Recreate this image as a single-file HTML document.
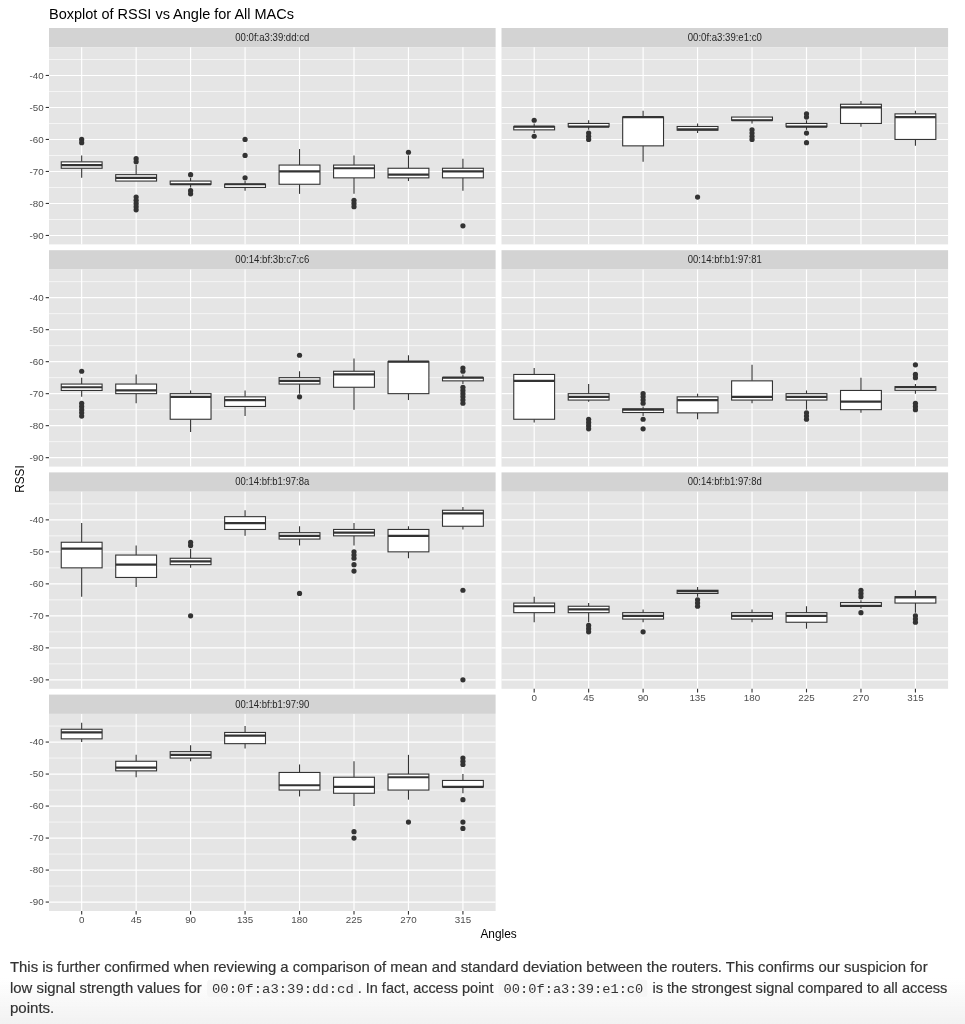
<!DOCTYPE html>
<html><head><meta charset="utf-8">
<style>
html,body{margin:0;padding:0;background:#fff;}
body{width:965px;height:1024px;overflow:hidden;position:relative;font-family:"Liberation Sans",sans-serif;}
svg{position:absolute;left:0;top:0;will-change:transform;}
svg text{font-family:"Liberation Sans",sans-serif;}
.st{font-size:10.2px;fill:#262626;}
.ax{font-size:9.8px;fill:#4D4D4D;}
.gmin{stroke:#fff;stroke-width:0.65;}
.gmaj{stroke:#fff;stroke-width:1.15;}
.wh{stroke:#333333;stroke-width:1.1;}
.bx{fill:#fff;stroke:#333333;stroke-width:1.1;}
.md{stroke:#333333;stroke-width:2.2;}
.pt{fill:#333333;}
.tk{stroke:#333333;stroke-width:1.1;}
.ttl{font-size:14.5px;fill:#000;}
.atl{font-size:11.8px;fill:#000;}
.pa{font-size:14.4px;fill:#333;stroke:#333;stroke-width:0.18px;}
.cd{font-family:"Liberation Mono",monospace !important;font-size:12.8px;fill:#333;}
</style></head>
<body>
<svg width="965" height="1024" viewBox="0 0 965 1024">
<defs><linearGradient id="fd" x1="0" y1="0" x2="0" y2="1">
<stop offset="0" stop-color="#f2f2f2" stop-opacity="0"/>
<stop offset="1" stop-color="#f2f2f2" stop-opacity="1"/>
</linearGradient></defs>
<text x="49" y="19.4" class="ttl">Boxplot of RSSI vs Angle for All MACs</text>
<rect x="49" y="28" width="446.6" height="19.3" fill="#D3D3D3"/>
<text x="235.3" y="40.95" class="st" textLength="74" lengthAdjust="spacingAndGlyphs">00:0f:a3:39:dd:cd</text>
<rect x="49" y="47.3" width="446.6" height="197.1" fill="#E5E5E5"/>
<line x1="49" x2="495.6" y1="59.46" y2="59.46" class="gmin"/>
<line x1="49" x2="495.6" y1="91.46" y2="91.46" class="gmin"/>
<line x1="49" x2="495.6" y1="123.46" y2="123.46" class="gmin"/>
<line x1="49" x2="495.6" y1="155.46" y2="155.46" class="gmin"/>
<line x1="49" x2="495.6" y1="187.46" y2="187.46" class="gmin"/>
<line x1="49" x2="495.6" y1="219.46" y2="219.46" class="gmin"/>
<line x1="49" x2="495.6" y1="75.46" y2="75.46" class="gmaj"/>
<line x1="49" x2="495.6" y1="107.46" y2="107.46" class="gmaj"/>
<line x1="49" x2="495.6" y1="139.46" y2="139.46" class="gmaj"/>
<line x1="49" x2="495.6" y1="171.46" y2="171.46" class="gmaj"/>
<line x1="49" x2="495.6" y1="203.46" y2="203.46" class="gmaj"/>
<line x1="49" x2="495.6" y1="235.46" y2="235.46" class="gmaj"/>
<line x1="81.68" x2="81.68" y1="47.3" y2="244.4" class="gmaj"/>
<line x1="136.14" x2="136.14" y1="47.3" y2="244.4" class="gmaj"/>
<line x1="190.6" x2="190.6" y1="47.3" y2="244.4" class="gmaj"/>
<line x1="245.07" x2="245.07" y1="47.3" y2="244.4" class="gmaj"/>
<line x1="299.53" x2="299.53" y1="47.3" y2="244.4" class="gmaj"/>
<line x1="354" x2="354" y1="47.3" y2="244.4" class="gmaj"/>
<line x1="408.46" x2="408.46" y1="47.3" y2="244.4" class="gmaj"/>
<line x1="462.92" x2="462.92" y1="47.3" y2="244.4" class="gmaj"/>
<line x1="81.68" x2="81.68" y1="155.46" y2="161.86" class="wh"/>
<line x1="81.68" x2="81.68" y1="168.26" y2="177.86" class="wh"/>
<rect x="61.25" y="161.86" width="40.85" height="6.4" class="bx"/>
<line x1="61.25" x2="102.1" y1="165.06" y2="165.06" class="md"/>
<circle cx="81.68" cy="139.46" r="2.6" class="pt"/>
<circle cx="81.68" cy="142.66" r="2.6" class="pt"/>
<line x1="136.14" x2="136.14" y1="165.06" y2="174.66" class="wh"/>
<line x1="136.14" x2="136.14" y1="181.06" y2="181.06" class="wh"/>
<rect x="115.72" y="174.66" width="40.85" height="6.4" class="bx"/>
<line x1="115.72" x2="156.57" y1="177.86" y2="177.86" class="md"/>
<circle cx="136.14" cy="158.66" r="2.6" class="pt"/>
<circle cx="136.14" cy="161.86" r="2.6" class="pt"/>
<circle cx="136.14" cy="197.06" r="2.6" class="pt"/>
<circle cx="136.14" cy="200.26" r="2.6" class="pt"/>
<circle cx="136.14" cy="203.46" r="2.6" class="pt"/>
<circle cx="136.14" cy="206.66" r="2.6" class="pt"/>
<circle cx="136.14" cy="209.86" r="2.6" class="pt"/>
<line x1="190.6" x2="190.6" y1="177.86" y2="181.06" class="wh"/>
<line x1="190.6" x2="190.6" y1="184.26" y2="187.46" class="wh"/>
<rect x="170.18" y="181.06" width="40.85" height="3.2" class="bx"/>
<line x1="170.18" x2="211.03" y1="184.26" y2="184.26" class="md"/>
<circle cx="190.6" cy="174.66" r="2.6" class="pt"/>
<circle cx="190.6" cy="190.66" r="2.6" class="pt"/>
<circle cx="190.6" cy="193.86" r="2.6" class="pt"/>
<line x1="245.07" x2="245.07" y1="181.06" y2="184.26" class="wh"/>
<line x1="245.07" x2="245.07" y1="187.46" y2="190.66" class="wh"/>
<rect x="224.64" y="184.26" width="40.85" height="3.2" class="bx"/>
<line x1="224.64" x2="265.49" y1="184.26" y2="184.26" class="md"/>
<circle cx="245.07" cy="139.46" r="2.6" class="pt"/>
<circle cx="245.07" cy="155.46" r="2.6" class="pt"/>
<circle cx="245.07" cy="177.86" r="2.6" class="pt"/>
<line x1="299.53" x2="299.53" y1="149.06" y2="165.06" class="wh"/>
<line x1="299.53" x2="299.53" y1="184.26" y2="193.86" class="wh"/>
<rect x="279.11" y="165.06" width="40.85" height="19.2" class="bx"/>
<line x1="279.11" x2="319.96" y1="171.46" y2="171.46" class="md"/>
<line x1="354" x2="354" y1="155.46" y2="165.06" class="wh"/>
<line x1="354" x2="354" y1="177.86" y2="193.86" class="wh"/>
<rect x="333.57" y="165.06" width="40.85" height="12.8" class="bx"/>
<line x1="333.57" x2="374.42" y1="168.26" y2="168.26" class="md"/>
<circle cx="354" cy="200.26" r="2.6" class="pt"/>
<circle cx="354" cy="203.46" r="2.6" class="pt"/>
<circle cx="354" cy="206.66" r="2.6" class="pt"/>
<line x1="408.46" x2="408.46" y1="155.46" y2="168.26" class="wh"/>
<line x1="408.46" x2="408.46" y1="177.86" y2="181.06" class="wh"/>
<rect x="388.03" y="168.26" width="40.85" height="9.6" class="bx"/>
<line x1="388.03" x2="428.88" y1="174.66" y2="174.66" class="md"/>
<circle cx="408.46" cy="152.26" r="2.6" class="pt"/>
<line x1="462.92" x2="462.92" y1="158.66" y2="168.26" class="wh"/>
<line x1="462.92" x2="462.92" y1="177.86" y2="190.66" class="wh"/>
<rect x="442.5" y="168.26" width="40.85" height="9.6" class="bx"/>
<line x1="442.5" x2="483.35" y1="171.46" y2="171.46" class="md"/>
<circle cx="462.92" cy="225.86" r="2.6" class="pt"/>
<line x1="45.7" x2="49" y1="75.46" y2="75.46" class="tk"/>
<text x="43.7" y="78.86" class="ax" text-anchor="end" textLength="14.16" lengthAdjust="spacingAndGlyphs">-40</text>
<line x1="45.7" x2="49" y1="107.46" y2="107.46" class="tk"/>
<text x="43.7" y="110.86" class="ax" text-anchor="end" textLength="14.16" lengthAdjust="spacingAndGlyphs">-50</text>
<line x1="45.7" x2="49" y1="139.46" y2="139.46" class="tk"/>
<text x="43.7" y="142.86" class="ax" text-anchor="end" textLength="14.16" lengthAdjust="spacingAndGlyphs">-60</text>
<line x1="45.7" x2="49" y1="171.46" y2="171.46" class="tk"/>
<text x="43.7" y="174.86" class="ax" text-anchor="end" textLength="14.16" lengthAdjust="spacingAndGlyphs">-70</text>
<line x1="45.7" x2="49" y1="203.46" y2="203.46" class="tk"/>
<text x="43.7" y="206.86" class="ax" text-anchor="end" textLength="14.16" lengthAdjust="spacingAndGlyphs">-80</text>
<line x1="45.7" x2="49" y1="235.46" y2="235.46" class="tk"/>
<text x="43.7" y="238.86" class="ax" text-anchor="end" textLength="14.16" lengthAdjust="spacingAndGlyphs">-90</text>
<rect x="501.5" y="28" width="446.6" height="19.3" fill="#D3D3D3"/>
<text x="687.8" y="40.95" class="st" textLength="74" lengthAdjust="spacingAndGlyphs">00:0f:a3:39:e1:c0</text>
<rect x="501.5" y="47.3" width="446.6" height="197.1" fill="#E5E5E5"/>
<line x1="501.5" x2="948.1" y1="59.46" y2="59.46" class="gmin"/>
<line x1="501.5" x2="948.1" y1="91.46" y2="91.46" class="gmin"/>
<line x1="501.5" x2="948.1" y1="123.46" y2="123.46" class="gmin"/>
<line x1="501.5" x2="948.1" y1="155.46" y2="155.46" class="gmin"/>
<line x1="501.5" x2="948.1" y1="187.46" y2="187.46" class="gmin"/>
<line x1="501.5" x2="948.1" y1="219.46" y2="219.46" class="gmin"/>
<line x1="501.5" x2="948.1" y1="75.46" y2="75.46" class="gmaj"/>
<line x1="501.5" x2="948.1" y1="107.46" y2="107.46" class="gmaj"/>
<line x1="501.5" x2="948.1" y1="139.46" y2="139.46" class="gmaj"/>
<line x1="501.5" x2="948.1" y1="171.46" y2="171.46" class="gmaj"/>
<line x1="501.5" x2="948.1" y1="203.46" y2="203.46" class="gmaj"/>
<line x1="501.5" x2="948.1" y1="235.46" y2="235.46" class="gmaj"/>
<line x1="534.18" x2="534.18" y1="47.3" y2="244.4" class="gmaj"/>
<line x1="588.64" x2="588.64" y1="47.3" y2="244.4" class="gmaj"/>
<line x1="643.1" x2="643.1" y1="47.3" y2="244.4" class="gmaj"/>
<line x1="697.57" x2="697.57" y1="47.3" y2="244.4" class="gmaj"/>
<line x1="752.03" x2="752.03" y1="47.3" y2="244.4" class="gmaj"/>
<line x1="806.5" x2="806.5" y1="47.3" y2="244.4" class="gmaj"/>
<line x1="860.96" x2="860.96" y1="47.3" y2="244.4" class="gmaj"/>
<line x1="915.42" x2="915.42" y1="47.3" y2="244.4" class="gmaj"/>
<line x1="534.18" x2="534.18" y1="123.46" y2="126.66" class="wh"/>
<line x1="534.18" x2="534.18" y1="129.86" y2="133.06" class="wh"/>
<rect x="513.75" y="126.66" width="40.85" height="3.2" class="bx"/>
<line x1="513.75" x2="554.6" y1="126.66" y2="126.66" class="md"/>
<circle cx="534.18" cy="120.26" r="2.6" class="pt"/>
<circle cx="534.18" cy="136.26" r="2.6" class="pt"/>
<line x1="588.64" x2="588.64" y1="120.26" y2="123.46" class="wh"/>
<line x1="588.64" x2="588.64" y1="126.66" y2="129.86" class="wh"/>
<rect x="568.22" y="123.46" width="40.85" height="3.2" class="bx"/>
<line x1="568.22" x2="609.07" y1="126.66" y2="126.66" class="md"/>
<circle cx="588.64" cy="133.06" r="2.6" class="pt"/>
<circle cx="588.64" cy="136.26" r="2.6" class="pt"/>
<circle cx="588.64" cy="139.46" r="2.6" class="pt"/>
<line x1="643.1" x2="643.1" y1="110.66" y2="117.06" class="wh"/>
<line x1="643.1" x2="643.1" y1="145.86" y2="161.86" class="wh"/>
<rect x="622.68" y="117.06" width="40.85" height="28.8" class="bx"/>
<line x1="622.68" x2="663.53" y1="117.06" y2="117.06" class="md"/>
<line x1="697.57" x2="697.57" y1="123.46" y2="126.5" class="wh"/>
<line x1="697.57" x2="697.57" y1="130.18" y2="133.06" class="wh"/>
<rect x="677.14" y="126.5" width="40.85" height="3.68" class="bx"/>
<line x1="677.14" x2="717.99" y1="129.38" y2="129.38" class="md"/>
<circle cx="697.57" cy="197.06" r="2.6" class="pt"/>
<line x1="752.03" x2="752.03" y1="117.06" y2="117.06" class="wh"/>
<line x1="752.03" x2="752.03" y1="120.26" y2="123.46" class="wh"/>
<rect x="731.61" y="117.06" width="40.85" height="3.2" class="bx"/>
<line x1="731.61" x2="772.46" y1="120.26" y2="120.26" class="md"/>
<circle cx="752.03" cy="129.86" r="2.6" class="pt"/>
<circle cx="752.03" cy="133.06" r="2.6" class="pt"/>
<circle cx="752.03" cy="136.26" r="2.6" class="pt"/>
<circle cx="752.03" cy="139.46" r="2.6" class="pt"/>
<line x1="806.5" x2="806.5" y1="120.26" y2="123.46" class="wh"/>
<line x1="806.5" x2="806.5" y1="126.66" y2="129.86" class="wh"/>
<rect x="786.07" y="123.46" width="40.85" height="3.2" class="bx"/>
<line x1="786.07" x2="826.92" y1="126.66" y2="126.66" class="md"/>
<circle cx="806.5" cy="113.86" r="2.6" class="pt"/>
<circle cx="806.5" cy="117.06" r="2.6" class="pt"/>
<circle cx="806.5" cy="133.06" r="2.6" class="pt"/>
<circle cx="806.5" cy="142.66" r="2.6" class="pt"/>
<line x1="860.96" x2="860.96" y1="101.06" y2="104.26" class="wh"/>
<line x1="860.96" x2="860.96" y1="123.46" y2="126.66" class="wh"/>
<rect x="840.53" y="104.26" width="40.85" height="19.2" class="bx"/>
<line x1="840.53" x2="881.38" y1="107.46" y2="107.46" class="md"/>
<line x1="915.42" x2="915.42" y1="110.66" y2="113.86" class="wh"/>
<line x1="915.42" x2="915.42" y1="139.46" y2="145.86" class="wh"/>
<rect x="895" y="113.86" width="40.85" height="25.6" class="bx"/>
<line x1="895" x2="935.85" y1="117.06" y2="117.06" class="md"/>
<rect x="49" y="250.2" width="446.6" height="19.3" fill="#D3D3D3"/>
<text x="235.3" y="263.15" class="st" textLength="74" lengthAdjust="spacingAndGlyphs">00:14:bf:3b:c7:c6</text>
<rect x="49" y="269.5" width="446.6" height="197.1" fill="#E5E5E5"/>
<line x1="49" x2="495.6" y1="281.66" y2="281.66" class="gmin"/>
<line x1="49" x2="495.6" y1="313.66" y2="313.66" class="gmin"/>
<line x1="49" x2="495.6" y1="345.66" y2="345.66" class="gmin"/>
<line x1="49" x2="495.6" y1="377.66" y2="377.66" class="gmin"/>
<line x1="49" x2="495.6" y1="409.66" y2="409.66" class="gmin"/>
<line x1="49" x2="495.6" y1="441.66" y2="441.66" class="gmin"/>
<line x1="49" x2="495.6" y1="297.66" y2="297.66" class="gmaj"/>
<line x1="49" x2="495.6" y1="329.66" y2="329.66" class="gmaj"/>
<line x1="49" x2="495.6" y1="361.66" y2="361.66" class="gmaj"/>
<line x1="49" x2="495.6" y1="393.66" y2="393.66" class="gmaj"/>
<line x1="49" x2="495.6" y1="425.66" y2="425.66" class="gmaj"/>
<line x1="49" x2="495.6" y1="457.66" y2="457.66" class="gmaj"/>
<line x1="81.68" x2="81.68" y1="269.5" y2="466.6" class="gmaj"/>
<line x1="136.14" x2="136.14" y1="269.5" y2="466.6" class="gmaj"/>
<line x1="190.6" x2="190.6" y1="269.5" y2="466.6" class="gmaj"/>
<line x1="245.07" x2="245.07" y1="269.5" y2="466.6" class="gmaj"/>
<line x1="299.53" x2="299.53" y1="269.5" y2="466.6" class="gmaj"/>
<line x1="354" x2="354" y1="269.5" y2="466.6" class="gmaj"/>
<line x1="408.46" x2="408.46" y1="269.5" y2="466.6" class="gmaj"/>
<line x1="462.92" x2="462.92" y1="269.5" y2="466.6" class="gmaj"/>
<line x1="81.68" x2="81.68" y1="377.66" y2="384.06" class="wh"/>
<line x1="81.68" x2="81.68" y1="390.46" y2="396.86" class="wh"/>
<rect x="61.25" y="384.06" width="40.85" height="6.4" class="bx"/>
<line x1="61.25" x2="102.1" y1="387.26" y2="387.26" class="md"/>
<circle cx="81.68" cy="371.26" r="2.6" class="pt"/>
<circle cx="81.68" cy="403.26" r="2.6" class="pt"/>
<circle cx="81.68" cy="406.46" r="2.6" class="pt"/>
<circle cx="81.68" cy="409.66" r="2.6" class="pt"/>
<circle cx="81.68" cy="412.86" r="2.6" class="pt"/>
<circle cx="81.68" cy="416.06" r="2.6" class="pt"/>
<line x1="136.14" x2="136.14" y1="374.46" y2="384.06" class="wh"/>
<line x1="136.14" x2="136.14" y1="393.66" y2="403.26" class="wh"/>
<rect x="115.72" y="384.06" width="40.85" height="9.6" class="bx"/>
<line x1="115.72" x2="156.57" y1="390.46" y2="390.46" class="md"/>
<line x1="190.6" x2="190.6" y1="390.46" y2="393.66" class="wh"/>
<line x1="190.6" x2="190.6" y1="419.26" y2="432.06" class="wh"/>
<rect x="170.18" y="393.66" width="40.85" height="25.6" class="bx"/>
<line x1="170.18" x2="211.03" y1="396.86" y2="396.86" class="md"/>
<line x1="245.07" x2="245.07" y1="390.46" y2="396.86" class="wh"/>
<line x1="245.07" x2="245.07" y1="406.46" y2="416.06" class="wh"/>
<rect x="224.64" y="396.86" width="40.85" height="9.6" class="bx"/>
<line x1="224.64" x2="265.49" y1="400.06" y2="400.06" class="md"/>
<line x1="299.53" x2="299.53" y1="371.26" y2="377.66" class="wh"/>
<line x1="299.53" x2="299.53" y1="384.06" y2="393.66" class="wh"/>
<rect x="279.11" y="377.66" width="40.85" height="6.4" class="bx"/>
<line x1="279.11" x2="319.96" y1="380.86" y2="380.86" class="md"/>
<circle cx="299.53" cy="355.26" r="2.6" class="pt"/>
<circle cx="299.53" cy="396.86" r="2.6" class="pt"/>
<line x1="354" x2="354" y1="358.46" y2="371.26" class="wh"/>
<line x1="354" x2="354" y1="387.26" y2="409.66" class="wh"/>
<rect x="333.57" y="371.26" width="40.85" height="16" class="bx"/>
<line x1="333.57" x2="374.42" y1="374.46" y2="374.46" class="md"/>
<line x1="408.46" x2="408.46" y1="355.26" y2="361.66" class="wh"/>
<line x1="408.46" x2="408.46" y1="393.66" y2="400.06" class="wh"/>
<rect x="388.03" y="361.66" width="40.85" height="32" class="bx"/>
<line x1="388.03" x2="428.88" y1="361.66" y2="361.66" class="md"/>
<line x1="462.92" x2="462.92" y1="374.46" y2="377.66" class="wh"/>
<line x1="462.92" x2="462.92" y1="380.86" y2="384.06" class="wh"/>
<rect x="442.5" y="377.66" width="40.85" height="3.2" class="bx"/>
<line x1="442.5" x2="483.35" y1="377.66" y2="377.66" class="md"/>
<circle cx="462.92" cy="368.06" r="2.6" class="pt"/>
<circle cx="462.92" cy="371.26" r="2.6" class="pt"/>
<circle cx="462.92" cy="387.26" r="2.6" class="pt"/>
<circle cx="462.92" cy="390.46" r="2.6" class="pt"/>
<circle cx="462.92" cy="393.66" r="2.6" class="pt"/>
<circle cx="462.92" cy="396.86" r="2.6" class="pt"/>
<circle cx="462.92" cy="400.06" r="2.6" class="pt"/>
<circle cx="462.92" cy="403.26" r="2.6" class="pt"/>
<line x1="45.7" x2="49" y1="297.66" y2="297.66" class="tk"/>
<text x="43.7" y="301.06" class="ax" text-anchor="end" textLength="14.16" lengthAdjust="spacingAndGlyphs">-40</text>
<line x1="45.7" x2="49" y1="329.66" y2="329.66" class="tk"/>
<text x="43.7" y="333.06" class="ax" text-anchor="end" textLength="14.16" lengthAdjust="spacingAndGlyphs">-50</text>
<line x1="45.7" x2="49" y1="361.66" y2="361.66" class="tk"/>
<text x="43.7" y="365.06" class="ax" text-anchor="end" textLength="14.16" lengthAdjust="spacingAndGlyphs">-60</text>
<line x1="45.7" x2="49" y1="393.66" y2="393.66" class="tk"/>
<text x="43.7" y="397.06" class="ax" text-anchor="end" textLength="14.16" lengthAdjust="spacingAndGlyphs">-70</text>
<line x1="45.7" x2="49" y1="425.66" y2="425.66" class="tk"/>
<text x="43.7" y="429.06" class="ax" text-anchor="end" textLength="14.16" lengthAdjust="spacingAndGlyphs">-80</text>
<line x1="45.7" x2="49" y1="457.66" y2="457.66" class="tk"/>
<text x="43.7" y="461.06" class="ax" text-anchor="end" textLength="14.16" lengthAdjust="spacingAndGlyphs">-90</text>
<rect x="501.5" y="250.2" width="446.6" height="19.3" fill="#D3D3D3"/>
<text x="687.8" y="263.15" class="st" textLength="74" lengthAdjust="spacingAndGlyphs">00:14:bf:b1:97:81</text>
<rect x="501.5" y="269.5" width="446.6" height="197.1" fill="#E5E5E5"/>
<line x1="501.5" x2="948.1" y1="281.66" y2="281.66" class="gmin"/>
<line x1="501.5" x2="948.1" y1="313.66" y2="313.66" class="gmin"/>
<line x1="501.5" x2="948.1" y1="345.66" y2="345.66" class="gmin"/>
<line x1="501.5" x2="948.1" y1="377.66" y2="377.66" class="gmin"/>
<line x1="501.5" x2="948.1" y1="409.66" y2="409.66" class="gmin"/>
<line x1="501.5" x2="948.1" y1="441.66" y2="441.66" class="gmin"/>
<line x1="501.5" x2="948.1" y1="297.66" y2="297.66" class="gmaj"/>
<line x1="501.5" x2="948.1" y1="329.66" y2="329.66" class="gmaj"/>
<line x1="501.5" x2="948.1" y1="361.66" y2="361.66" class="gmaj"/>
<line x1="501.5" x2="948.1" y1="393.66" y2="393.66" class="gmaj"/>
<line x1="501.5" x2="948.1" y1="425.66" y2="425.66" class="gmaj"/>
<line x1="501.5" x2="948.1" y1="457.66" y2="457.66" class="gmaj"/>
<line x1="534.18" x2="534.18" y1="269.5" y2="466.6" class="gmaj"/>
<line x1="588.64" x2="588.64" y1="269.5" y2="466.6" class="gmaj"/>
<line x1="643.1" x2="643.1" y1="269.5" y2="466.6" class="gmaj"/>
<line x1="697.57" x2="697.57" y1="269.5" y2="466.6" class="gmaj"/>
<line x1="752.03" x2="752.03" y1="269.5" y2="466.6" class="gmaj"/>
<line x1="806.5" x2="806.5" y1="269.5" y2="466.6" class="gmaj"/>
<line x1="860.96" x2="860.96" y1="269.5" y2="466.6" class="gmaj"/>
<line x1="915.42" x2="915.42" y1="269.5" y2="466.6" class="gmaj"/>
<line x1="534.18" x2="534.18" y1="368.06" y2="374.46" class="wh"/>
<line x1="534.18" x2="534.18" y1="419.26" y2="422.46" class="wh"/>
<rect x="513.75" y="374.46" width="40.85" height="44.8" class="bx"/>
<line x1="513.75" x2="554.6" y1="380.86" y2="380.86" class="md"/>
<line x1="588.64" x2="588.64" y1="384.06" y2="393.66" class="wh"/>
<line x1="588.64" x2="588.64" y1="400.06" y2="401.66" class="wh"/>
<rect x="568.22" y="393.66" width="40.85" height="6.4" class="bx"/>
<line x1="568.22" x2="609.07" y1="396.86" y2="396.86" class="md"/>
<circle cx="588.64" cy="419.26" r="2.6" class="pt"/>
<circle cx="588.64" cy="422.46" r="2.6" class="pt"/>
<circle cx="588.64" cy="425.66" r="2.6" class="pt"/>
<circle cx="588.64" cy="428.86" r="2.6" class="pt"/>
<line x1="643.1" x2="643.1" y1="406.46" y2="408.86" class="wh"/>
<line x1="643.1" x2="643.1" y1="412.54" y2="416.06" class="wh"/>
<rect x="622.68" y="408.86" width="40.85" height="3.68" class="bx"/>
<line x1="622.68" x2="663.53" y1="409.66" y2="409.66" class="md"/>
<circle cx="643.1" cy="393.66" r="2.6" class="pt"/>
<circle cx="643.1" cy="396.86" r="2.6" class="pt"/>
<circle cx="643.1" cy="400.06" r="2.6" class="pt"/>
<circle cx="643.1" cy="403.26" r="2.6" class="pt"/>
<circle cx="643.1" cy="419.26" r="2.6" class="pt"/>
<circle cx="643.1" cy="428.86" r="2.6" class="pt"/>
<line x1="697.57" x2="697.57" y1="393.66" y2="396.86" class="wh"/>
<line x1="697.57" x2="697.57" y1="412.86" y2="419.26" class="wh"/>
<rect x="677.14" y="396.86" width="40.85" height="16" class="bx"/>
<line x1="677.14" x2="717.99" y1="400.06" y2="400.06" class="md"/>
<line x1="752.03" x2="752.03" y1="364.86" y2="380.86" class="wh"/>
<line x1="752.03" x2="752.03" y1="400.06" y2="403.26" class="wh"/>
<rect x="731.61" y="380.86" width="40.85" height="19.2" class="bx"/>
<line x1="731.61" x2="772.46" y1="396.86" y2="396.86" class="md"/>
<line x1="806.5" x2="806.5" y1="390.46" y2="393.66" class="wh"/>
<line x1="806.5" x2="806.5" y1="400.06" y2="409.66" class="wh"/>
<rect x="786.07" y="393.66" width="40.85" height="6.4" class="bx"/>
<line x1="786.07" x2="826.92" y1="396.86" y2="396.86" class="md"/>
<circle cx="806.5" cy="412.86" r="2.6" class="pt"/>
<circle cx="806.5" cy="416.06" r="2.6" class="pt"/>
<circle cx="806.5" cy="419.26" r="2.6" class="pt"/>
<line x1="860.96" x2="860.96" y1="377.66" y2="390.46" class="wh"/>
<line x1="860.96" x2="860.96" y1="409.66" y2="412.86" class="wh"/>
<rect x="840.53" y="390.46" width="40.85" height="19.2" class="bx"/>
<line x1="840.53" x2="881.38" y1="401.66" y2="401.66" class="md"/>
<line x1="915.42" x2="915.42" y1="384.06" y2="386.62" class="wh"/>
<line x1="915.42" x2="915.42" y1="390.3" y2="393.66" class="wh"/>
<rect x="895" y="386.62" width="40.85" height="3.68" class="bx"/>
<line x1="895" x2="935.85" y1="387.26" y2="387.26" class="md"/>
<circle cx="915.42" cy="364.86" r="2.6" class="pt"/>
<circle cx="915.42" cy="374.46" r="2.6" class="pt"/>
<circle cx="915.42" cy="377.66" r="2.6" class="pt"/>
<circle cx="915.42" cy="403.26" r="2.6" class="pt"/>
<circle cx="915.42" cy="406.46" r="2.6" class="pt"/>
<circle cx="915.42" cy="409.66" r="2.6" class="pt"/>
<rect x="49" y="472.4" width="446.6" height="19.3" fill="#D3D3D3"/>
<text x="235.3" y="485.35" class="st" textLength="74" lengthAdjust="spacingAndGlyphs">00:14:bf:b1:97:8a</text>
<rect x="49" y="491.7" width="446.6" height="197.1" fill="#E5E5E5"/>
<line x1="49" x2="495.6" y1="503.86" y2="503.86" class="gmin"/>
<line x1="49" x2="495.6" y1="535.86" y2="535.86" class="gmin"/>
<line x1="49" x2="495.6" y1="567.86" y2="567.86" class="gmin"/>
<line x1="49" x2="495.6" y1="599.86" y2="599.86" class="gmin"/>
<line x1="49" x2="495.6" y1="631.86" y2="631.86" class="gmin"/>
<line x1="49" x2="495.6" y1="663.86" y2="663.86" class="gmin"/>
<line x1="49" x2="495.6" y1="519.86" y2="519.86" class="gmaj"/>
<line x1="49" x2="495.6" y1="551.86" y2="551.86" class="gmaj"/>
<line x1="49" x2="495.6" y1="583.86" y2="583.86" class="gmaj"/>
<line x1="49" x2="495.6" y1="615.86" y2="615.86" class="gmaj"/>
<line x1="49" x2="495.6" y1="647.86" y2="647.86" class="gmaj"/>
<line x1="49" x2="495.6" y1="679.86" y2="679.86" class="gmaj"/>
<line x1="81.68" x2="81.68" y1="491.7" y2="688.8" class="gmaj"/>
<line x1="136.14" x2="136.14" y1="491.7" y2="688.8" class="gmaj"/>
<line x1="190.6" x2="190.6" y1="491.7" y2="688.8" class="gmaj"/>
<line x1="245.07" x2="245.07" y1="491.7" y2="688.8" class="gmaj"/>
<line x1="299.53" x2="299.53" y1="491.7" y2="688.8" class="gmaj"/>
<line x1="354" x2="354" y1="491.7" y2="688.8" class="gmaj"/>
<line x1="408.46" x2="408.46" y1="491.7" y2="688.8" class="gmaj"/>
<line x1="462.92" x2="462.92" y1="491.7" y2="688.8" class="gmaj"/>
<line x1="81.68" x2="81.68" y1="523.06" y2="542.26" class="wh"/>
<line x1="81.68" x2="81.68" y1="567.86" y2="596.66" class="wh"/>
<rect x="61.25" y="542.26" width="40.85" height="25.6" class="bx"/>
<line x1="61.25" x2="102.1" y1="548.66" y2="548.66" class="md"/>
<line x1="136.14" x2="136.14" y1="545.46" y2="555.06" class="wh"/>
<line x1="136.14" x2="136.14" y1="577.46" y2="587.06" class="wh"/>
<rect x="115.72" y="555.06" width="40.85" height="22.4" class="bx"/>
<line x1="115.72" x2="156.57" y1="564.66" y2="564.66" class="md"/>
<line x1="190.6" x2="190.6" y1="548.66" y2="558.26" class="wh"/>
<line x1="190.6" x2="190.6" y1="564.66" y2="567.86" class="wh"/>
<rect x="170.18" y="558.26" width="40.85" height="6.4" class="bx"/>
<line x1="170.18" x2="211.03" y1="561.46" y2="561.46" class="md"/>
<circle cx="190.6" cy="542.26" r="2.6" class="pt"/>
<circle cx="190.6" cy="545.46" r="2.6" class="pt"/>
<circle cx="190.6" cy="615.86" r="2.6" class="pt"/>
<line x1="245.07" x2="245.07" y1="510.26" y2="516.66" class="wh"/>
<line x1="245.07" x2="245.07" y1="529.46" y2="535.86" class="wh"/>
<rect x="224.64" y="516.66" width="40.85" height="12.8" class="bx"/>
<line x1="224.64" x2="265.49" y1="523.06" y2="523.06" class="md"/>
<line x1="299.53" x2="299.53" y1="526.26" y2="532.66" class="wh"/>
<line x1="299.53" x2="299.53" y1="539.06" y2="545.46" class="wh"/>
<rect x="279.11" y="532.66" width="40.85" height="6.4" class="bx"/>
<line x1="279.11" x2="319.96" y1="535.86" y2="535.86" class="md"/>
<circle cx="299.53" cy="593.46" r="2.6" class="pt"/>
<line x1="354" x2="354" y1="523.06" y2="529.46" class="wh"/>
<line x1="354" x2="354" y1="535.86" y2="545.46" class="wh"/>
<rect x="333.57" y="529.46" width="40.85" height="6.4" class="bx"/>
<line x1="333.57" x2="374.42" y1="532.66" y2="532.66" class="md"/>
<circle cx="354" cy="551.86" r="2.6" class="pt"/>
<circle cx="354" cy="555.06" r="2.6" class="pt"/>
<circle cx="354" cy="558.26" r="2.6" class="pt"/>
<circle cx="354" cy="564.66" r="2.6" class="pt"/>
<circle cx="354" cy="571.06" r="2.6" class="pt"/>
<line x1="408.46" x2="408.46" y1="526.26" y2="529.46" class="wh"/>
<line x1="408.46" x2="408.46" y1="551.86" y2="558.26" class="wh"/>
<rect x="388.03" y="529.46" width="40.85" height="22.4" class="bx"/>
<line x1="388.03" x2="428.88" y1="535.86" y2="535.86" class="md"/>
<line x1="462.92" x2="462.92" y1="507.06" y2="510.26" class="wh"/>
<line x1="462.92" x2="462.92" y1="526.26" y2="529.46" class="wh"/>
<rect x="442.5" y="510.26" width="40.85" height="16" class="bx"/>
<line x1="442.5" x2="483.35" y1="513.46" y2="513.46" class="md"/>
<circle cx="462.92" cy="590.26" r="2.6" class="pt"/>
<circle cx="462.92" cy="679.86" r="2.6" class="pt"/>
<line x1="45.7" x2="49" y1="519.86" y2="519.86" class="tk"/>
<text x="43.7" y="523.26" class="ax" text-anchor="end" textLength="14.16" lengthAdjust="spacingAndGlyphs">-40</text>
<line x1="45.7" x2="49" y1="551.86" y2="551.86" class="tk"/>
<text x="43.7" y="555.26" class="ax" text-anchor="end" textLength="14.16" lengthAdjust="spacingAndGlyphs">-50</text>
<line x1="45.7" x2="49" y1="583.86" y2="583.86" class="tk"/>
<text x="43.7" y="587.26" class="ax" text-anchor="end" textLength="14.16" lengthAdjust="spacingAndGlyphs">-60</text>
<line x1="45.7" x2="49" y1="615.86" y2="615.86" class="tk"/>
<text x="43.7" y="619.26" class="ax" text-anchor="end" textLength="14.16" lengthAdjust="spacingAndGlyphs">-70</text>
<line x1="45.7" x2="49" y1="647.86" y2="647.86" class="tk"/>
<text x="43.7" y="651.26" class="ax" text-anchor="end" textLength="14.16" lengthAdjust="spacingAndGlyphs">-80</text>
<line x1="45.7" x2="49" y1="679.86" y2="679.86" class="tk"/>
<text x="43.7" y="683.26" class="ax" text-anchor="end" textLength="14.16" lengthAdjust="spacingAndGlyphs">-90</text>
<rect x="501.5" y="472.4" width="446.6" height="19.3" fill="#D3D3D3"/>
<text x="687.8" y="485.35" class="st" textLength="74" lengthAdjust="spacingAndGlyphs">00:14:bf:b1:97:8d</text>
<rect x="501.5" y="491.7" width="446.6" height="197.1" fill="#E5E5E5"/>
<line x1="501.5" x2="948.1" y1="503.86" y2="503.86" class="gmin"/>
<line x1="501.5" x2="948.1" y1="535.86" y2="535.86" class="gmin"/>
<line x1="501.5" x2="948.1" y1="567.86" y2="567.86" class="gmin"/>
<line x1="501.5" x2="948.1" y1="599.86" y2="599.86" class="gmin"/>
<line x1="501.5" x2="948.1" y1="631.86" y2="631.86" class="gmin"/>
<line x1="501.5" x2="948.1" y1="663.86" y2="663.86" class="gmin"/>
<line x1="501.5" x2="948.1" y1="519.86" y2="519.86" class="gmaj"/>
<line x1="501.5" x2="948.1" y1="551.86" y2="551.86" class="gmaj"/>
<line x1="501.5" x2="948.1" y1="583.86" y2="583.86" class="gmaj"/>
<line x1="501.5" x2="948.1" y1="615.86" y2="615.86" class="gmaj"/>
<line x1="501.5" x2="948.1" y1="647.86" y2="647.86" class="gmaj"/>
<line x1="501.5" x2="948.1" y1="679.86" y2="679.86" class="gmaj"/>
<line x1="534.18" x2="534.18" y1="491.7" y2="688.8" class="gmaj"/>
<line x1="588.64" x2="588.64" y1="491.7" y2="688.8" class="gmaj"/>
<line x1="643.1" x2="643.1" y1="491.7" y2="688.8" class="gmaj"/>
<line x1="697.57" x2="697.57" y1="491.7" y2="688.8" class="gmaj"/>
<line x1="752.03" x2="752.03" y1="491.7" y2="688.8" class="gmaj"/>
<line x1="806.5" x2="806.5" y1="491.7" y2="688.8" class="gmaj"/>
<line x1="860.96" x2="860.96" y1="491.7" y2="688.8" class="gmaj"/>
<line x1="915.42" x2="915.42" y1="491.7" y2="688.8" class="gmaj"/>
<line x1="534.18" x2="534.18" y1="596.66" y2="603.06" class="wh"/>
<line x1="534.18" x2="534.18" y1="612.66" y2="622.26" class="wh"/>
<rect x="513.75" y="603.06" width="40.85" height="9.6" class="bx"/>
<line x1="513.75" x2="554.6" y1="606.26" y2="606.26" class="md"/>
<line x1="588.64" x2="588.64" y1="603.06" y2="606.26" class="wh"/>
<line x1="588.64" x2="588.64" y1="612.66" y2="622.26" class="wh"/>
<rect x="568.22" y="606.26" width="40.85" height="6.4" class="bx"/>
<line x1="568.22" x2="609.07" y1="609.46" y2="609.46" class="md"/>
<circle cx="588.64" cy="625.46" r="2.6" class="pt"/>
<circle cx="588.64" cy="628.66" r="2.6" class="pt"/>
<circle cx="588.64" cy="631.86" r="2.6" class="pt"/>
<line x1="643.1" x2="643.1" y1="609.46" y2="612.66" class="wh"/>
<line x1="643.1" x2="643.1" y1="619.06" y2="622.26" class="wh"/>
<rect x="622.68" y="612.66" width="40.85" height="6.4" class="bx"/>
<line x1="622.68" x2="663.53" y1="615.86" y2="615.86" class="md"/>
<circle cx="643.1" cy="631.86" r="2.6" class="pt"/>
<line x1="697.57" x2="697.57" y1="587.06" y2="590.26" class="wh"/>
<line x1="697.57" x2="697.57" y1="593.46" y2="596.66" class="wh"/>
<rect x="677.14" y="590.26" width="40.85" height="3.2" class="bx"/>
<line x1="677.14" x2="717.99" y1="591.22" y2="591.22" class="md"/>
<circle cx="697.57" cy="599.86" r="2.6" class="pt"/>
<circle cx="697.57" cy="603.06" r="2.6" class="pt"/>
<circle cx="697.57" cy="606.26" r="2.6" class="pt"/>
<line x1="752.03" x2="752.03" y1="609.46" y2="612.66" class="wh"/>
<line x1="752.03" x2="752.03" y1="619.06" y2="622.26" class="wh"/>
<rect x="731.61" y="612.66" width="40.85" height="6.4" class="bx"/>
<line x1="731.61" x2="772.46" y1="615.86" y2="615.86" class="md"/>
<line x1="806.5" x2="806.5" y1="606.26" y2="612.66" class="wh"/>
<line x1="806.5" x2="806.5" y1="622.26" y2="628.66" class="wh"/>
<rect x="786.07" y="612.66" width="40.85" height="9.6" class="bx"/>
<line x1="786.07" x2="826.92" y1="615.86" y2="615.86" class="md"/>
<line x1="860.96" x2="860.96" y1="600.18" y2="602.58" class="wh"/>
<line x1="860.96" x2="860.96" y1="606.42" y2="608.5" class="wh"/>
<rect x="840.53" y="602.58" width="40.85" height="3.84" class="bx"/>
<line x1="840.53" x2="881.38" y1="605.78" y2="605.78" class="md"/>
<circle cx="860.96" cy="590.26" r="2.6" class="pt"/>
<circle cx="860.96" cy="593.46" r="2.6" class="pt"/>
<circle cx="860.96" cy="596.66" r="2.6" class="pt"/>
<circle cx="860.96" cy="612.66" r="2.6" class="pt"/>
<line x1="915.42" x2="915.42" y1="590.26" y2="596.66" class="wh"/>
<line x1="915.42" x2="915.42" y1="603.06" y2="612.66" class="wh"/>
<rect x="895" y="596.66" width="40.85" height="6.4" class="bx"/>
<line x1="895" x2="935.85" y1="597.3" y2="597.3" class="md"/>
<circle cx="915.42" cy="615.86" r="2.6" class="pt"/>
<circle cx="915.42" cy="619.06" r="2.6" class="pt"/>
<circle cx="915.42" cy="622.26" r="2.6" class="pt"/>
<line x1="534.18" x2="534.18" y1="688.8" y2="692.4" class="tk"/>
<text x="534.18" y="701.1" class="ax" text-anchor="middle" textLength="5.45" lengthAdjust="spacingAndGlyphs">0</text>
<line x1="588.64" x2="588.64" y1="688.8" y2="692.4" class="tk"/>
<text x="588.64" y="701.1" class="ax" text-anchor="middle" textLength="10.9" lengthAdjust="spacingAndGlyphs">45</text>
<line x1="643.1" x2="643.1" y1="688.8" y2="692.4" class="tk"/>
<text x="643.1" y="701.1" class="ax" text-anchor="middle" textLength="10.9" lengthAdjust="spacingAndGlyphs">90</text>
<line x1="697.57" x2="697.57" y1="688.8" y2="692.4" class="tk"/>
<text x="697.57" y="701.1" class="ax" text-anchor="middle" textLength="16.35" lengthAdjust="spacingAndGlyphs">135</text>
<line x1="752.03" x2="752.03" y1="688.8" y2="692.4" class="tk"/>
<text x="752.03" y="701.1" class="ax" text-anchor="middle" textLength="16.35" lengthAdjust="spacingAndGlyphs">180</text>
<line x1="806.5" x2="806.5" y1="688.8" y2="692.4" class="tk"/>
<text x="806.5" y="701.1" class="ax" text-anchor="middle" textLength="16.35" lengthAdjust="spacingAndGlyphs">225</text>
<line x1="860.96" x2="860.96" y1="688.8" y2="692.4" class="tk"/>
<text x="860.96" y="701.1" class="ax" text-anchor="middle" textLength="16.35" lengthAdjust="spacingAndGlyphs">270</text>
<line x1="915.42" x2="915.42" y1="688.8" y2="692.4" class="tk"/>
<text x="915.42" y="701.1" class="ax" text-anchor="middle" textLength="16.35" lengthAdjust="spacingAndGlyphs">315</text>
<rect x="49" y="694.6" width="446.6" height="19.3" fill="#D3D3D3"/>
<text x="235.3" y="707.55" class="st" textLength="74" lengthAdjust="spacingAndGlyphs">00:14:bf:b1:97:90</text>
<rect x="49" y="713.9" width="446.6" height="197.1" fill="#E5E5E5"/>
<line x1="49" x2="495.6" y1="726.06" y2="726.06" class="gmin"/>
<line x1="49" x2="495.6" y1="758.06" y2="758.06" class="gmin"/>
<line x1="49" x2="495.6" y1="790.06" y2="790.06" class="gmin"/>
<line x1="49" x2="495.6" y1="822.06" y2="822.06" class="gmin"/>
<line x1="49" x2="495.6" y1="854.06" y2="854.06" class="gmin"/>
<line x1="49" x2="495.6" y1="886.06" y2="886.06" class="gmin"/>
<line x1="49" x2="495.6" y1="742.06" y2="742.06" class="gmaj"/>
<line x1="49" x2="495.6" y1="774.06" y2="774.06" class="gmaj"/>
<line x1="49" x2="495.6" y1="806.06" y2="806.06" class="gmaj"/>
<line x1="49" x2="495.6" y1="838.06" y2="838.06" class="gmaj"/>
<line x1="49" x2="495.6" y1="870.06" y2="870.06" class="gmaj"/>
<line x1="49" x2="495.6" y1="902.06" y2="902.06" class="gmaj"/>
<line x1="81.68" x2="81.68" y1="713.9" y2="911" class="gmaj"/>
<line x1="136.14" x2="136.14" y1="713.9" y2="911" class="gmaj"/>
<line x1="190.6" x2="190.6" y1="713.9" y2="911" class="gmaj"/>
<line x1="245.07" x2="245.07" y1="713.9" y2="911" class="gmaj"/>
<line x1="299.53" x2="299.53" y1="713.9" y2="911" class="gmaj"/>
<line x1="354" x2="354" y1="713.9" y2="911" class="gmaj"/>
<line x1="408.46" x2="408.46" y1="713.9" y2="911" class="gmaj"/>
<line x1="462.92" x2="462.92" y1="713.9" y2="911" class="gmaj"/>
<line x1="81.68" x2="81.68" y1="722.86" y2="729.26" class="wh"/>
<line x1="81.68" x2="81.68" y1="738.86" y2="742.06" class="wh"/>
<rect x="61.25" y="729.26" width="40.85" height="9.6" class="bx"/>
<line x1="61.25" x2="102.1" y1="732.46" y2="732.46" class="md"/>
<line x1="136.14" x2="136.14" y1="754.86" y2="761.26" class="wh"/>
<line x1="136.14" x2="136.14" y1="770.86" y2="777.26" class="wh"/>
<rect x="115.72" y="761.26" width="40.85" height="9.6" class="bx"/>
<line x1="115.72" x2="156.57" y1="767.66" y2="767.66" class="md"/>
<line x1="190.6" x2="190.6" y1="745.26" y2="751.66" class="wh"/>
<line x1="190.6" x2="190.6" y1="758.06" y2="761.26" class="wh"/>
<rect x="170.18" y="751.66" width="40.85" height="6.4" class="bx"/>
<line x1="170.18" x2="211.03" y1="754.86" y2="754.86" class="md"/>
<line x1="245.07" x2="245.07" y1="726.06" y2="732.46" class="wh"/>
<line x1="245.07" x2="245.07" y1="743.66" y2="748.46" class="wh"/>
<rect x="224.64" y="732.46" width="40.85" height="11.2" class="bx"/>
<line x1="224.64" x2="265.49" y1="735.66" y2="735.66" class="md"/>
<line x1="299.53" x2="299.53" y1="764.46" y2="772.46" class="wh"/>
<line x1="299.53" x2="299.53" y1="790.06" y2="796.46" class="wh"/>
<rect x="279.11" y="772.46" width="40.85" height="17.6" class="bx"/>
<line x1="279.11" x2="319.96" y1="785.26" y2="785.26" class="md"/>
<line x1="354" x2="354" y1="761.26" y2="777.26" class="wh"/>
<line x1="354" x2="354" y1="793.26" y2="806.06" class="wh"/>
<rect x="333.57" y="777.26" width="40.85" height="16" class="bx"/>
<line x1="333.57" x2="374.42" y1="786.86" y2="786.86" class="md"/>
<circle cx="354" cy="831.66" r="2.6" class="pt"/>
<circle cx="354" cy="838.06" r="2.6" class="pt"/>
<line x1="408.46" x2="408.46" y1="754.86" y2="774.06" class="wh"/>
<line x1="408.46" x2="408.46" y1="790.06" y2="799.66" class="wh"/>
<rect x="388.03" y="774.06" width="40.85" height="16" class="bx"/>
<line x1="388.03" x2="428.88" y1="777.26" y2="777.26" class="md"/>
<circle cx="408.46" cy="822.06" r="2.6" class="pt"/>
<line x1="462.92" x2="462.92" y1="774.06" y2="780.46" class="wh"/>
<line x1="462.92" x2="462.92" y1="786.86" y2="793.26" class="wh"/>
<rect x="442.5" y="780.46" width="40.85" height="6.4" class="bx"/>
<line x1="442.5" x2="483.35" y1="786.86" y2="786.86" class="md"/>
<circle cx="462.92" cy="758.06" r="2.6" class="pt"/>
<circle cx="462.92" cy="761.26" r="2.6" class="pt"/>
<circle cx="462.92" cy="764.46" r="2.6" class="pt"/>
<circle cx="462.92" cy="799.66" r="2.6" class="pt"/>
<circle cx="462.92" cy="822.06" r="2.6" class="pt"/>
<circle cx="462.92" cy="828.46" r="2.6" class="pt"/>
<line x1="45.7" x2="49" y1="742.06" y2="742.06" class="tk"/>
<text x="43.7" y="745.46" class="ax" text-anchor="end" textLength="14.16" lengthAdjust="spacingAndGlyphs">-40</text>
<line x1="45.7" x2="49" y1="774.06" y2="774.06" class="tk"/>
<text x="43.7" y="777.46" class="ax" text-anchor="end" textLength="14.16" lengthAdjust="spacingAndGlyphs">-50</text>
<line x1="45.7" x2="49" y1="806.06" y2="806.06" class="tk"/>
<text x="43.7" y="809.46" class="ax" text-anchor="end" textLength="14.16" lengthAdjust="spacingAndGlyphs">-60</text>
<line x1="45.7" x2="49" y1="838.06" y2="838.06" class="tk"/>
<text x="43.7" y="841.46" class="ax" text-anchor="end" textLength="14.16" lengthAdjust="spacingAndGlyphs">-70</text>
<line x1="45.7" x2="49" y1="870.06" y2="870.06" class="tk"/>
<text x="43.7" y="873.46" class="ax" text-anchor="end" textLength="14.16" lengthAdjust="spacingAndGlyphs">-80</text>
<line x1="45.7" x2="49" y1="902.06" y2="902.06" class="tk"/>
<text x="43.7" y="905.46" class="ax" text-anchor="end" textLength="14.16" lengthAdjust="spacingAndGlyphs">-90</text>
<line x1="81.68" x2="81.68" y1="911" y2="914.6" class="tk"/>
<text x="81.68" y="923.3" class="ax" text-anchor="middle" textLength="5.45" lengthAdjust="spacingAndGlyphs">0</text>
<line x1="136.14" x2="136.14" y1="911" y2="914.6" class="tk"/>
<text x="136.14" y="923.3" class="ax" text-anchor="middle" textLength="10.9" lengthAdjust="spacingAndGlyphs">45</text>
<line x1="190.6" x2="190.6" y1="911" y2="914.6" class="tk"/>
<text x="190.6" y="923.3" class="ax" text-anchor="middle" textLength="10.9" lengthAdjust="spacingAndGlyphs">90</text>
<line x1="245.07" x2="245.07" y1="911" y2="914.6" class="tk"/>
<text x="245.07" y="923.3" class="ax" text-anchor="middle" textLength="16.35" lengthAdjust="spacingAndGlyphs">135</text>
<line x1="299.53" x2="299.53" y1="911" y2="914.6" class="tk"/>
<text x="299.53" y="923.3" class="ax" text-anchor="middle" textLength="16.35" lengthAdjust="spacingAndGlyphs">180</text>
<line x1="354" x2="354" y1="911" y2="914.6" class="tk"/>
<text x="354" y="923.3" class="ax" text-anchor="middle" textLength="16.35" lengthAdjust="spacingAndGlyphs">225</text>
<line x1="408.46" x2="408.46" y1="911" y2="914.6" class="tk"/>
<text x="408.46" y="923.3" class="ax" text-anchor="middle" textLength="16.35" lengthAdjust="spacingAndGlyphs">270</text>
<line x1="462.92" x2="462.92" y1="911" y2="914.6" class="tk"/>
<text x="462.92" y="923.3" class="ax" text-anchor="middle" textLength="16.35" lengthAdjust="spacingAndGlyphs">315</text>
<text transform="translate(24.2,479) rotate(-90)" class="atl" style="font-size:12.8px" text-anchor="middle" textLength="27.4" lengthAdjust="spacingAndGlyphs">RSSI</text>
<text x="498.6" y="937.6" class="atl" style="font-size:12.3px" text-anchor="middle" textLength="36.3" lengthAdjust="spacingAndGlyphs">Angles</text>
<rect x="0" y="978" width="965" height="46" fill="url(#fd)"/>
<text x="10" y="972.4" class="pa" textLength="917.6" lengthAdjust="spacingAndGlyphs">This is further confirmed when reviewing a comparison of mean and standard deviation between the routers. This confirms our suspicion for</text>
<text x="10" y="992.5" class="pa" textLength="191.8" lengthAdjust="spacingAndGlyphs">low signal strength values for</text>
<rect x="207.2" y="979.7" width="150.8" height="17.3" rx="3" fill="#f6f6f6"/>
<text x="212" y="993.1" class="cd" textLength="141.8" lengthAdjust="spacingAndGlyphs">00:0f:a3:39:dd:cd</text>
<text x="357.8" y="992.5" class="pa" textLength="135.6" lengthAdjust="spacingAndGlyphs">. In fact, access point</text>
<rect x="498.6" y="979.7" width="148.7" height="17.3" rx="3" fill="#f6f6f6"/>
<text x="503.6" y="993.1" class="cd" textLength="139.7" lengthAdjust="spacingAndGlyphs">00:0f:a3:39:e1:c0</text>
<text x="652.4" y="992.5" class="pa" textLength="295" lengthAdjust="spacingAndGlyphs">is the strongest signal compared to all access</text>
<text x="10" y="1012.7" class="pa" textLength="44.3" lengthAdjust="spacingAndGlyphs">points.</text>
</svg>
</body></html>
